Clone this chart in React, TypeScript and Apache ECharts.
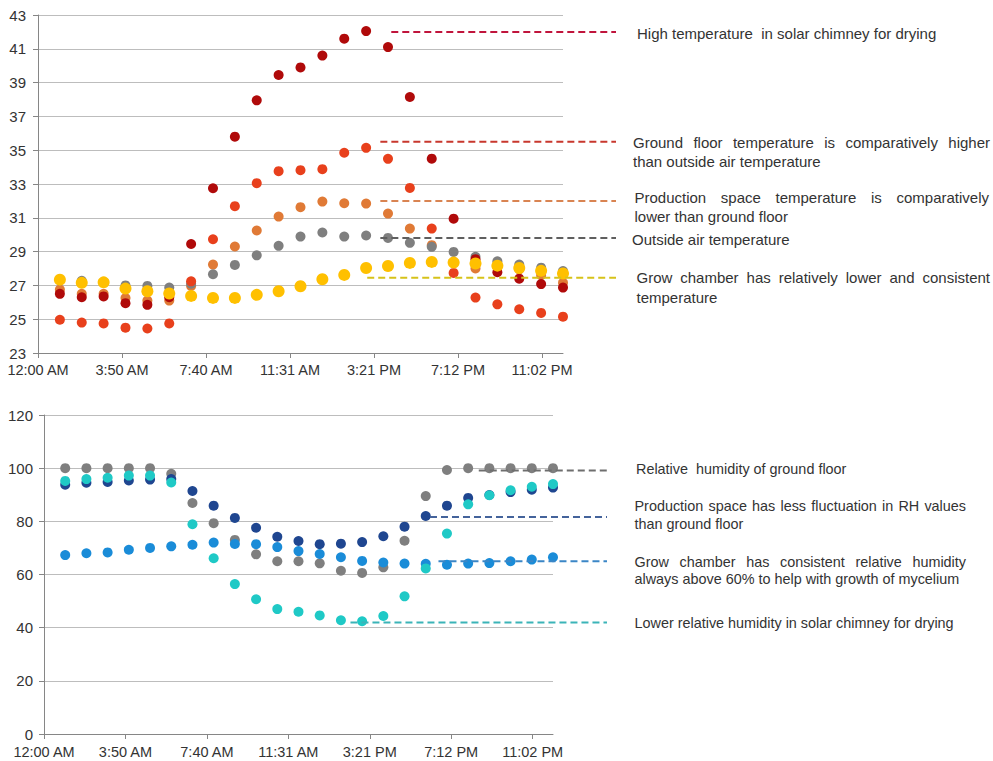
import React, { useEffect, useRef } from 'react';
import * as echarts from 'echarts';

// ---------- data ----------
const hours = [1, 2, 3, 4, 5, 6, 7, 8, 9, 10, 11, 12, 13, 14, 15, 16, 17, 18, 19, 20, 21, 22, 23, 24];
const timeTickLabels = ['12:00 AM', '3:50 AM', '7:40 AM', '11:31 AM', '3:21 PM', '7:12 PM', '11:02 PM'];
const TEMP_MIN = 23;

const solarChimneyTemp = [26.5, 26.3, 26.35, 25.95, 25.85, 26.3, 29.45, 32.75, 35.8, 37.95, 39.45, 39.9, 40.6, 41.6, 42.05, 41.1, 38.15, 34.5, 30.95, 28.55, 27.78, 27.4, 27.08, 26.87];
const groundFloorTemp = [24.97, 24.8, 24.75, 24.5, 24.45, 24.75, 27.24, 29.73, 31.69, 33.05, 33.76, 33.82, 33.88, 34.85, 35.14, 34.49, 32.77, 30.36, 27.74, 26.28, 25.88, 25.59, 25.37, 25.15];
const productionTemp = [26.75, 26.5, 26.5, 26.25, 26.1, 26.1, 26.97, 28.23, 29.3, 30.25, 31.07, 31.63, 31.96, 31.86, 31.84, 31.25, 30.36, 29.38, 28.4, 28.0, 28.1, 27.95, 27.6, 27.15];
const outsideTemp = [27.3, 27.27, 27.2, 27.0, 26.97, 26.87, 27.1, 27.66, 28.21, 28.78, 29.34, 29.89, 30.13, 29.89, 29.95, 29.81, 29.52, 29.28, 28.98, 28.69, 28.43, 28.23, 28.05, 27.85];
const growChamberTemp = [27.34, 27.15, 27.18, 26.81, 26.65, 26.52, 26.38, 26.26, 26.26, 26.44, 26.65, 26.95, 27.36, 27.62, 28.03, 28.15, 28.33, 28.39, 28.35, 28.3, 28.17, 28.03, 27.86, 27.7];

const groundFloorRH = [100, 100, 100, 100, 100, 97.9, 86.9, 79.3, 73.0, 67.6, 65.0, 65.0, 64.2, 61.4, 60.6, 62.7, 72.7, 89.5, 99.3, 100, 100, 100, 100, 100];
const productionRH = [93.8, 94.5, 94.8, 95.4, 95.7, 95.9, 91.4, 85.9, 81.3, 77.6, 74.2, 72.6, 71.4, 71.6, 72.2, 74.4, 78.0, 82.0, 85.9, 88.8, 89.9, 91.0, 91.9, 92.7];
const growChamberRH = [67.3, 68.0, 68.3, 69.3, 70.0, 70.6, 71.2, 72.0, 71.5, 71.4, 70.3, 68.8, 67.7, 66.5, 65.1, 64.5, 64.1, 64.0, 63.7, 64.1, 64.3, 65.0, 65.6, 66.5];
const solarChimneyRH = [95.2, 95.9, 96.4, 97.2, 97.2, 94.6, 78.9, 66.1, 56.4, 50.7, 47.0, 46.0, 44.6, 42.8, 42.4, 44.4, 51.8, 62.3, 75.4, 86.4, 89.8, 91.7, 93.0, 94.0];

// annotation values: [value on y axis, start hour]
const tempNoteValues = [42.0, 35.5, 32.0, 29.8, 27.45];
const tempNoteStarts = [16.15, 15.65, 15.65, 15.65, 15.05];
const rhNoteValues = [99.1, 81.6, 65.0, 41.9];
const rhNoteStarts = [20.5, 18.2, 18.6, 14.45];

const tempNoteTexts = [
  ['High temperature  in solar chimney for drying'],
  ['Ground floor temperature is comparatively higher', 'than outside air temperature'],
  ['Production space temperature is comparatively', 'lower than ground floor'],
  ['Outside air temperature'],
  ['Grow chamber has relatively lower and consistent', 'temperature'],
];
const rhNoteTexts = [
  ['Relative  humidity of ground floor'],
  ['Production space has less fluctuation in RH values', 'than ground floor'],
  ['Grow chamber has consistent relative humidity', 'always above 60% to help with growth of mycelium'],
  ['Lower relative humidity in solar chimney for drying'],
];

// ---------- styles / layout ----------
const FONT_FAMILY = "'Liberation Sans', Arial, sans-serif";
const TOP_NOTE_SIZE = 15;
const BOTTOM_NOTE_SIZE = 14.4;
const AXIS_FONT_SIZE = 14.5;
const TEXT_COLOR = '#333333';

const tempColors = { solar: '#B00A0A', ground: '#E8401C', production: '#E07A36', outside: '#7F7F7F', grow: '#FFC000' };
const rhColors = { ground: '#7F7F7F', production: '#1F4690', grow: '#1A8CD8', solar: '#1FC9C6' };
const tempLineColors = ['#C0143C', '#C8372D', '#D98452', '#5F5F5F', '#D6C21A'];
const rhLineColors = ['#6E6E6E', '#44639B', '#3B86C6', '#3BB4B8'];

// text layout (pixel positions): [x, rightEdge|null, y] per line
const tempTextLayout = [
  [[637, null, 33]],
  [[633, 990, 142], [633, null, 161]],
  [[634.5, 989, 197], [634.5, null, 216]],
  [[632, null, 239]],
  [[636.5, 990, 277], [636.5, null, 297]],
];
const rhTextLayout = [
  [[636, null, 469]],
  [[634.5, 966, 506], [634.5, null, 524]],
  [[634.5, 966, 562], [634.5, null, 579]],
  [[634.5, null, 623]],
];
const LINE_END_TOP = 616;
const LINE_END_BOTTOM = 607;

let measureCtx: CanvasRenderingContext2D | null = null;
function measure(t: string, size: number): number {
  if (!measureCtx) {
    measureCtx = document.createElement('canvas').getContext('2d');
  }
  if (!measureCtx) return t.length * size * 0.5;
  measureCtx.font = `${size}px ${FONT_FAMILY}`;
  return measureCtx.measureText(t).width;
}

function textEl(text: string, x: number, y: number, size: number) {
  return {
    type: 'text',
    x,
    y,
    silent: true,
    style: { text, fill: TEXT_COLOR, fontSize: size, fontFamily: FONT_FAMILY, verticalAlign: 'middle', align: 'left' },
  };
}

function lineEls(text: string, x: number, right: number | null, y: number, size: number) {
  if (right === null) return [textEl(text, x, y, size)];
  const words = text.split(/\s+/);
  const widths = words.map((w) => measure(w, size));
  const total = widths.reduce((a, b) => a + b, 0);
  const gap = words.length > 1 ? (right - x - total) / (words.length - 1) : 0;
  const out: any[] = [];
  let cx = x;
  words.forEach((w, i) => {
    out.push(textEl(w, cx, y, size));
    cx += widths[i] + gap;
  });
  return out;
}

function timeLabel(_v: number, idx: number) {
  return timeTickLabels[idx] ?? '';
}

function pairs(vals: number[], offset = 0) {
  return hours.map((h, i) => [h, vals[i] - offset]);
}

function scatter(name: string, data: number[][], color: string, size: number, x: number, z: number) {
  return {
    name,
    type: 'scatter',
    xAxisIndex: x,
    yAxisIndex: x,
    data,
    symbolSize: size,
    itemStyle: { color, opacity: 1 },
    z,
  };
}

export default function App() {
  const ref = useRef<HTMLDivElement>(null);
  useEffect(() => {
    if (!ref.current) return;
    const chart = echarts.init(ref.current, null, { renderer: 'svg' });
    const axisLabel = { color: TEXT_COLOR, fontSize: AXIS_FONT_SIZE, fontFamily: FONT_FAMILY };
    const axisLine = { show: true, lineStyle: { color: '#868686', width: 1 } };
    const xAxisBase = {
      type: 'value',
      min: 0,
      max: 24,
      interval: 3.84,
      axisLine,
      axisTick: { show: true, length: 5, lineStyle: { color: '#868686' } },
      splitLine: { show: false },
    };
    chart.setOption({
      animation: false,
      grid: [
        { left: 38, top: 15, width: 525, height: 338 },
        { left: 44, top: 415, width: 509, height: 319 },
      ],
      xAxis: [
        { ...xAxisBase, gridIndex: 0, axisLabel: { ...axisLabel, margin: 9, formatter: timeLabel, showMaxLabel: false, showMinLabel: true } },
        { ...xAxisBase, gridIndex: 1, axisLabel: { ...axisLabel, margin: 10, formatter: timeLabel, showMaxLabel: false, showMinLabel: true } },
      ],
      yAxis: [
        {
          type: 'value', gridIndex: 0, min: 0, max: 20, interval: 2,
          axisLine,
          axisTick: { show: true, length: 5, lineStyle: { color: '#868686' } },
          axisLabel: { ...axisLabel, fontSize: 15, margin: 12, formatter: (v: number) => String(Math.round(v + TEMP_MIN)) },
          splitLine: { show: true, lineStyle: { color: '#BDBDBD', width: 1 } },
        },
        {
          type: 'value', gridIndex: 1, min: 0, max: 120, interval: 20,
          axisLine,
          axisTick: { show: true, length: 5, lineStyle: { color: '#868686' } },
          axisLabel: { ...axisLabel, fontSize: 15, margin: 11 },
          splitLine: { show: true, lineStyle: { color: '#BDBDBD', width: 1 } },
        },
      ],
      series: [
        scatter('Production space temperature', pairs(productionTemp, TEMP_MIN), tempColors.production, 10, 0, 2),
        scatter('Outside air temperature', pairs(outsideTemp, TEMP_MIN), tempColors.outside, 10, 0, 3),
        scatter('Ground floor temperature', pairs(groundFloorTemp, TEMP_MIN), tempColors.ground, 10, 0, 4),
        scatter('Solar chimney temperature', pairs(solarChimneyTemp, TEMP_MIN), tempColors.solar, 10, 0, 5),
        scatter('Grow chamber temperature', pairs(growChamberTemp, TEMP_MIN), tempColors.grow, 12, 0, 6),
        scatter('Ground floor RH', pairs(groundFloorRH), rhColors.ground, 10, 1, 2),
        scatter('Production space RH', pairs(productionRH), rhColors.production, 10, 1, 3),
        scatter('Grow chamber RH', pairs(growChamberRH), rhColors.grow, 10, 1, 4),
        scatter('Solar chimney RH', pairs(solarChimneyRH), rhColors.solar, 10, 1, 5),
      ],
    });

    const graphics: any[] = [];
    tempNoteValues.forEach((v, i) => {
      const p = chart.convertToPixel({ xAxisIndex: 0, yAxisIndex: 0 }, [tempNoteStarts[i], v - TEMP_MIN]) as number[];
      graphics.push({
        type: 'line', silent: true, z: 10,
        shape: { x1: p[0], y1: p[1], x2: LINE_END_TOP, y2: p[1] },
        style: { stroke: tempLineColors[i], lineWidth: 2, lineDash: [7, 4] },
      });
    });
    rhNoteValues.forEach((v, i) => {
      const p = chart.convertToPixel({ xAxisIndex: 1, yAxisIndex: 1 }, [rhNoteStarts[i], v]) as number[];
      graphics.push({
        type: 'line', silent: true, z: 10,
        shape: { x1: p[0], y1: p[1], x2: LINE_END_BOTTOM, y2: p[1] },
        style: { stroke: rhLineColors[i], lineWidth: 2, lineDash: [7, 4] },
      });
    });
    tempNoteTexts.forEach((lines, i) => {
      lines.forEach((t, j) => {
        const [x, r, y] = tempTextLayout[i][j] as [number, number | null, number];
        graphics.push(...lineEls(t, x, r, y, TOP_NOTE_SIZE));
      });
    });
    rhNoteTexts.forEach((lines, i) => {
      lines.forEach((t, j) => {
        const [x, r, y] = rhTextLayout[i][j] as [number, number | null, number];
        graphics.push(...lineEls(t, x, r, y, BOTTOM_NOTE_SIZE));
      });
    });
    chart.setOption({ graphic: graphics });

    return () => chart.dispose();
  }, []);
  return <div ref={ref} style={{ position: 'absolute', left: 0, top: 0, width: 993, height: 761, background: '#ffffff' }} />;
}
